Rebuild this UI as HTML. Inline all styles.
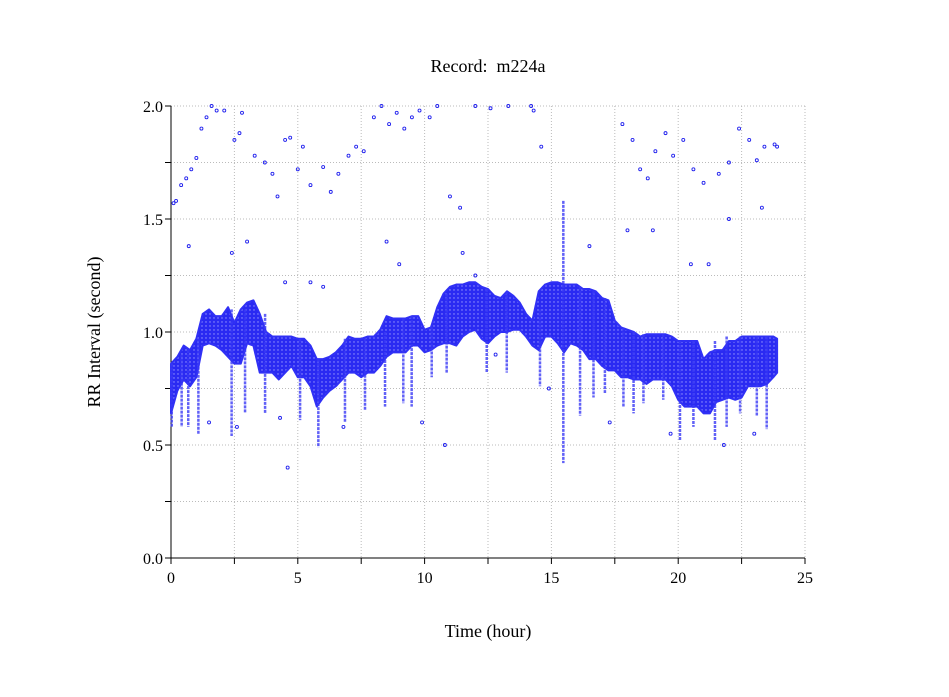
<!DOCTYPE html>
<html><head><meta charset="utf-8">
<style>
body{margin:0;background:#fff;}
svg{display:block;font-family:"Liberation Serif",serif;}
</style></head>
<body>
<svg id="chart" width="949" height="697">
<defs>
<pattern id="speck" width="4" height="4" patternUnits="userSpaceOnUse">
<rect width="4" height="4" fill="#2a2af2"/>
<circle cx="2" cy="2" r="0.7" fill="#9a9aff"/>
</pattern>
</defs>
<text x="488" y="72" font-size="18" text-anchor="middle">Record:&#160; m224a</text>
<text x="488" y="637" font-size="18" text-anchor="middle">Time (hour)</text>
<text x="100" y="332" font-size="18" text-anchor="middle" transform="rotate(-90 100 332)">RR Interval (second)</text>
<g id="grid"></g>
<g id="axes"></g>
<g id="band"></g>
<g id="outliers"></g>
</svg>
<script>
const xTicks=[0,2.5,5,7.5,10,12.5,15,17.5,20,22.5,25];
const xTickLabels=["0","","5","","10","","15","","20","","25"];
const yTicks=[0,0.25,0.5,0.75,1,1.25,1.5,1.75,2];
const yTickLabels=["0.0","","0.5","","1.0","","1.5","","2.0"];
const bandHours=[0,0.25,0.5,0.75,1,1.25,1.5,1.75,2,2.25,2.5,2.75,3,3.25,3.5,3.75,4,4.25,4.5,4.75,5,5.25,5.5,5.75,6,6.25,6.5,6.75,7,7.25,7.5,7.75,8,8.25,8.5,8.75,9,9.25,9.5,9.75,10,10.25,10.5,10.75,11,11.25,11.5,11.75,12,12.25,12.5,12.75,13,13.25,13.5,13.75,14,14.25,14.5,14.75,15,15.25,15.5,15.75,16,16.25,16.5,16.75,17,17.25,17.5,17.75,18,18.25,18.5,18.75,19,19.25,19.5,19.75,20,20.25,20.5,20.75,21,21.25,21.5,21.75,22,22.25,22.5,22.75,23,23.25,23.5,23.75,23.9];
const bandLow=[0.64,0.74,0.79,0.76,0.80,0.94,0.95,0.94,0.92,0.89,0.86,0.86,0.95,0.94,0.82,0.82,0.82,0.79,0.82,0.85,0.80,0.80,0.76,0.67,0.71,0.74,0.76,0.79,0.82,0.82,0.80,0.82,0.82,0.85,0.89,0.91,0.91,0.91,0.94,0.94,0.91,0.92,0.94,0.95,0.95,0.94,0.98,1.00,1.01,0.97,0.95,0.98,1.00,1.00,1.01,1.01,0.98,0.94,0.92,0.98,0.98,0.95,0.91,0.95,0.94,0.92,0.88,0.88,0.85,0.83,0.83,0.80,0.80,0.79,0.79,0.77,0.79,0.79,0.79,0.76,0.70,0.67,0.67,0.67,0.64,0.64,0.69,0.70,0.71,0.70,0.71,0.76,0.76,0.76,0.77,0.80,0.82];
const bandHigh=[0.86,0.89,0.94,0.92,0.97,1.08,1.10,1.07,1.07,1.11,1.04,1.10,1.13,1.14,1.08,1.00,0.98,0.98,0.98,0.98,0.97,0.97,0.94,0.88,0.88,0.89,0.91,0.94,0.98,0.97,0.97,0.98,0.98,1.01,1.07,1.06,1.06,1.06,1.07,1.07,1.01,1.02,1.11,1.17,1.20,1.21,1.21,1.22,1.22,1.20,1.19,1.16,1.15,1.18,1.16,1.13,1.08,1.05,1.18,1.21,1.22,1.22,1.21,1.21,1.21,1.19,1.19,1.18,1.15,1.14,1.05,1.02,1.01,1.00,0.98,0.99,0.99,0.99,0.99,0.98,0.96,0.96,0.96,0.96,0.88,0.91,0.92,0.92,0.96,0.96,0.98,0.98,0.98,0.98,0.98,0.98,0.97];
const streakHours=[0.03,0.42,0.68,1.08,2.39,2.92,3.71,5.09,5.81,6.86,7.65,8.44,9.16,9.49,10.28,10.87,12.45,13.24,14.55,15.47,16.13,16.66,17.11,17.84,18.24,18.63,19.41,20.07,20.60,21.45,21.91,22.44,23.1,23.49];
const streakLow=[0.58,0.58,0.58,0.55,0.54,0.64,0.64,0.61,0.49,0.60,0.655,0.67,0.685,0.67,0.80,0.82,0.82,0.82,0.76,0.42,0.63,0.71,0.73,0.67,0.64,0.685,0.70,0.52,0.58,0.52,0.58,0.64,0.63,0.57];
const streakHigh=[0.86,0.9,0.92,0.97,1.1,1.1,1.08,0.97,0.88,0.97,0.97,1.0,1.06,1.07,1.02,1.17,1.19,1.18,1.1,1.58,1.2,1.18,1.15,1.02,1.0,0.99,0.99,0.96,0.96,0.96,0.98,0.98,0.98,0.98];
const outHours=[0.1,0.2,0.4,0.6,0.8,1.0,1.2,1.4,1.6,1.8,2.1,2.5,2.7,2.8,3.3,3.7,4.0,4.2,4.5,4.7,5.0,5.2,5.5,6.0,6.3,6.6,7.0,7.3,7.6,8.0,8.3,8.6,8.9,9.2,9.5,9.8,10.2,10.5,11.0,11.4,12.0,12.6,13.3,14.2,14.6,14.3,17.8,18.2,18.5,18.8,19.1,19.5,19.8,20.2,20.6,21.0,21.6,22.0,22.4,22.8,23.1,23.4,23.8,23.9,3.0,4.5,9.0,11.5,18.0,20.5,22.0,0.7,2.4,5.5,6.0,8.5,12.0,16.5,19.0,21.2,23.3,4.6,10.8,14.9,1.5,2.6,4.3,6.8,9.9,12.8,17.3,19.7,21.8,23.0];
const outRR=[1.57,1.58,1.65,1.68,1.72,1.77,1.9,1.95,2.0,1.98,1.98,1.85,1.88,1.97,1.78,1.75,1.7,1.6,1.85,1.86,1.72,1.82,1.65,1.73,1.62,1.7,1.78,1.82,1.8,1.95,2.0,1.92,1.97,1.9,1.95,1.98,1.95,2.0,1.6,1.55,2.0,1.99,2.0,2.0,1.82,1.98,1.92,1.85,1.72,1.68,1.8,1.88,1.78,1.85,1.72,1.66,1.7,1.75,1.9,1.85,1.76,1.82,1.83,1.82,1.4,1.22,1.3,1.35,1.45,1.3,1.5,1.38,1.35,1.22,1.2,1.4,1.25,1.38,1.45,1.3,1.55,0.4,0.5,0.75,0.6,0.58,0.62,0.58,0.6,0.9,0.6,0.55,0.5,0.55];
const X=h=>171+h*(805-171)/25;
const Y=v=>558-v*(558-106)/2;
const NS="http://www.w3.org/2000/svg";
function mk(tag,attrs,parent){const e=document.createElementNS(NS,tag);for(const k in attrs)e.setAttribute(k,attrs[k]);parent.appendChild(e);return e;}
const gridG=document.getElementById('grid'),axesG=document.getElementById('axes'),bandG=document.getElementById('band'),outG=document.getElementById('outliers');
xTicks.forEach((t,i)=>{
  const g=mk('line',{x1:X(t),x2:X(t),y1:Y(2),y2:Y(0),stroke:'#bbb','stroke-dasharray':'1,2'},gridG);
  
  
  const tk=mk('line',{x1:X(t),x2:X(t),y1:Y(0),y2:Y(0)+6,stroke:'#000'},axesG);
  
  
  if(xTickLabels[i]){const tx=mk('text',{x:X(t),y:Y(0)+25,'font-size':16,'text-anchor':'middle'},axesG);tx.textContent=xTickLabels[i];
  
  }
});
yTicks.forEach((t,i)=>{
  const g=mk('line',{x1:X(0),x2:X(25),y1:Y(t),y2:Y(t),stroke:'#bbb','stroke-dasharray':'1,2'},gridG);
  
  
  const tk=mk('line',{x1:X(0)-6,x2:X(0),y1:Y(t),y2:Y(t),stroke:'#000'},axesG);
  
  
  if(yTickLabels[i]){const tx=mk('text',{x:X(0)-8,y:Y(t)+6,'font-size':16,'text-anchor':'end'},axesG);tx.textContent=yTickLabels[i];
  
  }
});
const ax1=mk('line',{x1:X(0),x2:X(25),y1:Y(0),y2:Y(0),stroke:'#000'},axesG);


const ax2=mk('line',{x1:X(0),x2:X(0),y1:Y(0),y2:Y(2),stroke:'#000'},axesG);


let upperPts='',lowerPts='';
bandHours.forEach((h,i)=>{upperPts+=X(h)+','+Y(bandHigh[i])+' ';});
for(let i=bandHours.length-1;i>=0;i--){lowerPts+=X(bandHours[i])+','+Y(bandLow[i])+' ';}
const poly=mk('polygon',{points:upperPts+lowerPts,fill:'url(#speck)',stroke:'#3030f5','stroke-width':2,'stroke-linejoin':'round'},bandG);


streakHours.forEach((h,i)=>{
  const s=mk('line',{x1:X(h),x2:X(h),y1:Y(streakHigh[i]),y2:Y(streakLow[i]),stroke:'#3a3af5','stroke-width':2.5,'stroke-opacity':0.8,'stroke-dasharray':'3,1'},bandG);
  
  
});
outHours.forEach((h,i)=>{
  const c=mk('circle',{cx:X(h),cy:Y(outRR[i]),r:1.5,fill:'none',stroke:'#2020ee','stroke-width':0.9},outG);
  
  
});
</script>
</body></html>
